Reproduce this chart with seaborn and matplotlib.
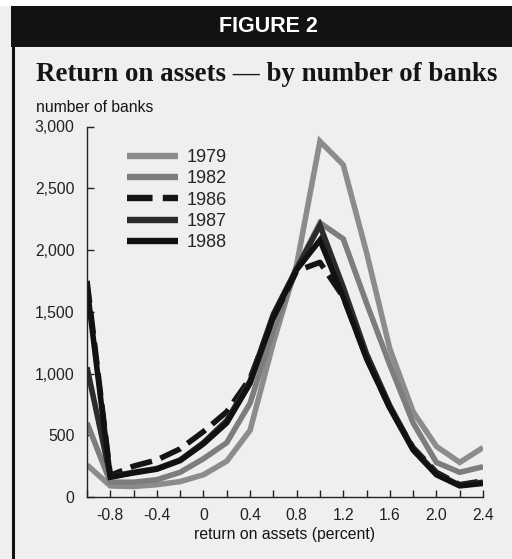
import matplotlib
matplotlib.use("Agg")
import matplotlib.pyplot as plt
from matplotlib.patches import Rectangle
from matplotlib.lines import Line2D
from matplotlib.ticker import MultipleLocator, FixedLocator, FuncFormatter
import seaborn as sns
import pandas as pd

# ---- data ----
roa = [-1.0, -0.8, -0.6, -0.4, -0.2, 0.0, 0.2, 0.4, 0.6, 0.8,
       1.0, 1.2, 1.4, 1.6, 1.8, 2.0, 2.2, 2.4]
banks_1979 = [260, 90, 85, 100, 125, 180, 290, 540, 1250, 1880,
              2880, 2690, 1980, 1200, 690, 410, 280, 400]
banks_1982 = [600, 120, 120, 140, 200, 310, 440, 760, 1350, 1850,
              2220, 2090, 1570, 1070, 600, 280, 200, 245]
banks_1986 = [1750, 175, 250, 300, 390, 530, 690, 960, 1450, 1830,
              1900, 1620, 1130, 720, 400, 200, 100, 130]
banks_1987 = [1050, 165, 200, 230, 300, 440, 620, 940, 1480, 1850,
              2200, 1700, 1160, 740, 390, 190, 95, 120]
banks_1988 = [1700, 160, 195, 225, 295, 430, 600, 920, 1460, 1840,
              2080, 1620, 1120, 720, 380, 180, 90, 110]
years = ["1979", "1982", "1986", "1987", "1988"]
x_tick_labels = ["-0.8", "-0.4", "0", "0.4", "0.8", "1.2", "1.6", "2.0", "2.4"]
y_ticks = [0, 500, 1000, 1500, 2000, 2500, 3000]

series = dict(zip(years, [banks_1979, banks_1982, banks_1986, banks_1987, banks_1988]))
df = pd.concat([pd.DataFrame({"roa": roa, "banks": v, "year": y}) for y, v in series.items()],
               ignore_index=True)

# ---- styles ----
colors = {"1979": "#8c8c8c", "1982": "#7d7d7d", "1986": "#141414",
          "1987": "#2b2b2b", "1988": "#111111"}
dashes = {"1979": "", "1982": "", "1986": (4, 1.6), "1987": "", "1988": ""}
LW = 4.0
BG = "#efefef"

sns.set_style("ticks")
plt.rcParams["font.family"] = ["Liberation Sans", "DejaVu Sans"]
plt.rcParams["axes.unicode_minus"] = False

W, H = 512, 559
fig = plt.figure(figsize=(W / 100, H / 100), dpi=100)
fig.patch.set_facecolor(BG)

def fx(px):
    return px / W

def fy(py):
    return 1 - py / H

# white strip above header
fig.patches.append(Rectangle((0, fy(6)), 1, 6 / H, transform=fig.transFigure,
                             facecolor="white", edgecolor="none", zorder=0))
# header bar
fig.patches.append(Rectangle((fx(11), fy(47)), 1 - fx(11), 41 / H, transform=fig.transFigure,
                             facecolor="#121212", edgecolor="none", zorder=1))
# left frame border
fig.lines.append(Line2D([fx(12.5), fx(12.5)], [fy(47), fy(559)], transform=fig.transFigure,
                        color="#121212", lw=2.2))

fig.text(fx(268), fy(27), "FIGURE 2", color="white", fontsize=15.5, fontweight="heavy",
         ha="center", va="center", family=["Liberation Sans", "DejaVu Sans"])
fig.text(fx(36), fy(81), "Return on assets \u2014 by number of banks", fontsize=19.4,
         fontweight="bold", ha="left", va="baseline",
         family=["Liberation Serif", "DejaVu Serif"], color="#151515")
fig.text(fx(36), fy(108), "number of banks", fontsize=11.3, ha="left", va="center",
         color="#151515")

ax = fig.add_axes([fx(87), fy(497), fx(483) - fx(87), (497 - 126.5) / H])
ax.set_facecolor("none")

for y in years:
    sub = df[df["year"] == y]
    sns.lineplot(data=sub, x="roa", y="banks", ax=ax, color=colors[y], lw=LW,
                 label=y, legend=False, sort=False,
                 dashes=False)
    line = ax.lines[-1]
    if dashes[y]:
        line.set_dashes(dashes[y])
    line.set_solid_joinstyle("miter")
    line.set_solid_capstyle("butt")

ax.set_xlim(-1.0, 2.4)
ax.set_ylim(0, 3000)
ax.xaxis.set_major_locator(FixedLocator([float(t) for t in x_tick_labels]))
ax.set_xticklabels(x_tick_labels)
ax.xaxis.set_minor_locator(MultipleLocator(0.2))
ax.set_yticks(y_ticks)
ax.yaxis.set_major_formatter(FuncFormatter(lambda v, p: f"{int(v):,}"))

for s in ["top", "right"]:
    ax.spines[s].set_visible(False)
for s in ["left", "bottom"]:
    ax.spines[s].set_linewidth(1.0)
    ax.spines[s].set_color("#222222")

ax.tick_params(axis="y", direction="in", length=5, width=1, pad=9, labelsize=11.3,
               colors="#222222")
ax.tick_params(axis="x", which="both", direction="in", length=5, width=1, pad=8,
               labelsize=11.3, colors="#222222")
ax.set_xlabel("return on assets (percent)", fontsize=11.3, labelpad=3, color="#151515")
ax.set_ylabel("")

handles = [Line2D([], [], color=colors[y], lw=LW + 0.6,
                  dashes=dashes[y] if dashes[y] else (None, None),
                  solid_capstyle="butt", dash_capstyle="butt") for y in years]
leg = ax.legend(handles, years, loc="upper left",
                bbox_to_anchor=(fx(127), fy(149)), bbox_transform=fig.transFigure,
                frameon=False, fontsize=13, handlelength=2.85, handletextpad=0.45,
                labelspacing=0.24, borderpad=0, borderaxespad=0)

fig.savefig("out.png", dpi=100, facecolor=BG)
